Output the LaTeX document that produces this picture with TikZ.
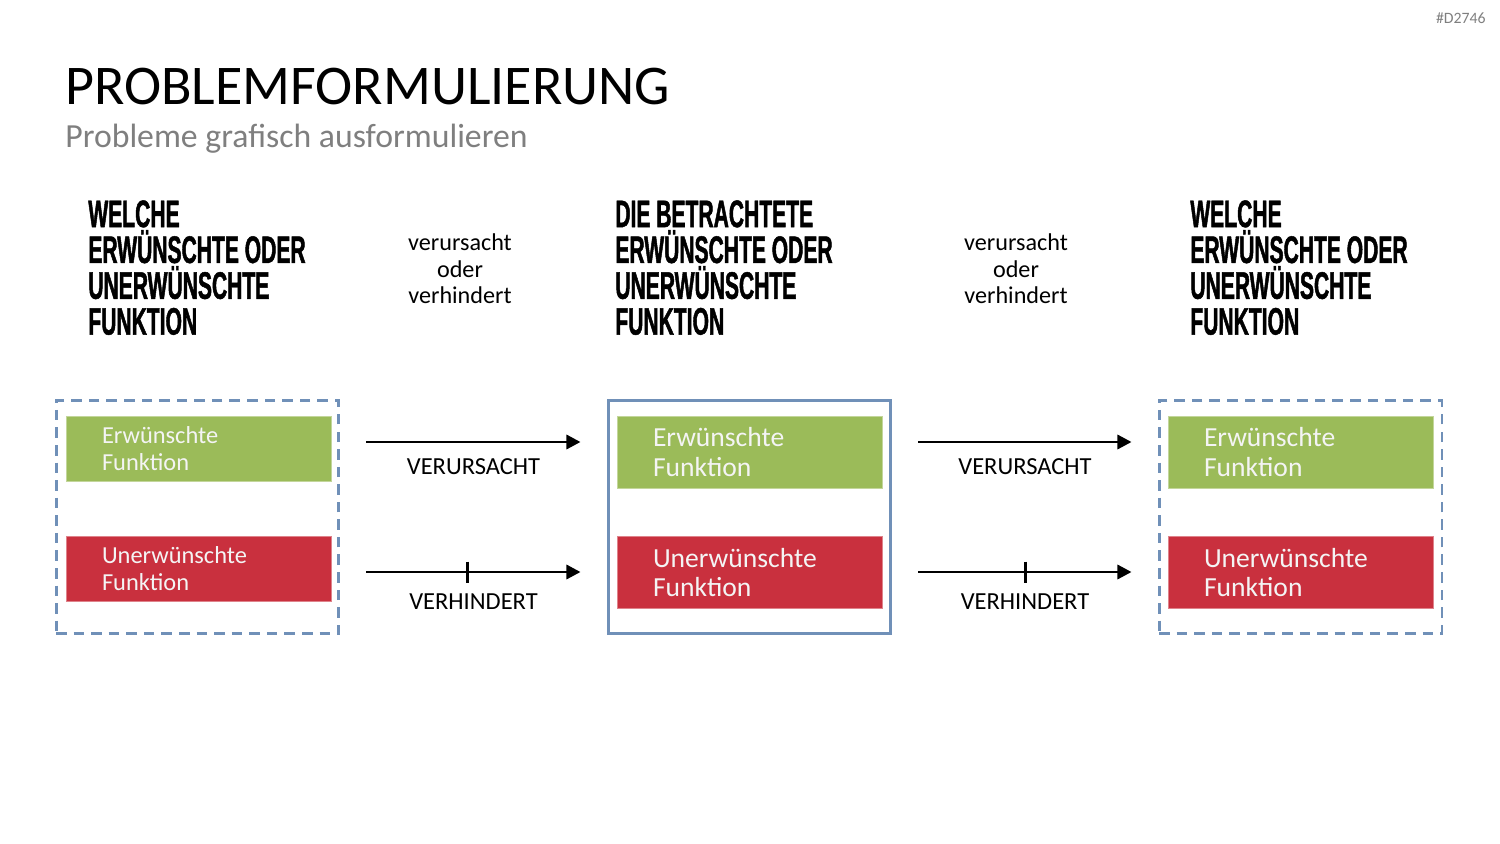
\documentclass[tikz,border=0pt]{standalone}
\usepackage{fontspec}
\setmainfont{Carlito}
\newfontfamily\pfheadfont{Liberation Sans}[FakeStretch=0.55,FakeBold=1.2]
\usepackage{xcolor}
\definecolor{pfink}{HTML}{000000}
\definecolor{pfgray}{HTML}{7F7F7F}
\definecolor{pfblue}{HTML}{7090B8}
\definecolor{pfgreen}{HTML}{9BBB59}
\definecolor{pfred}{HTML}{C9303E}
\definecolor{pflight}{HTML}{F4F4F4}
\usetikzlibrary{arrows.meta,positioning,calc}
\tikzset{
  pftitle/.style ={inner sep=0pt, font=\fontsize{31.9}{36}\selectfont, text=pfink},
  pfsub/.style   ={inner sep=0pt, font=\fontsize{19.2}{23}\selectfont, text=pfgray},
  pftag/.style   ={inner sep=0pt, font=\fontsize{9}{11}\selectfont, text=pfgray},
  pfhead/.style  ={inner sep=0pt, anchor=north west, align=left, text=pfink,
                   font=\pfheadfont\bfseries\fontsize{21.8}{20.4}\selectfont},
  pfnote/.style  ={inner sep=0pt, anchor=north, align=center, text=pfink,
                   font=\fontsize{13.75}{15.3}\selectfont},
  pfframe/.style ={rectangle, draw=pfblue, line width=1.7pt, inner sep=0pt,
                   minimum width=5.66cm, minimum height=4.66cm},
  pfdash/.style  ={pfframe, dash pattern=on 6pt off 4pt},
  pffunc/.style  ={rectangle, line width=0.5pt, text=pflight, align=left,
                   minimum width=5.3cm, text width=3.86cm, inner xsep=0.72cm, inner ysep=0pt},
  pfsmall/.style ={minimum height=1.3cm, font=\fontsize{13.9}{15.3}\selectfont},
  pfbig/.style   ={minimum height=1.44cm, font=\fontsize{15.7}{17}\selectfont},
  pfgood/.style  ={pffunc, fill=pfgreen, draw=pfgreen!60!white},
  pfbad/.style   ={pffunc, fill=pfred, draw=pfred!60!white},
  pfcause/.style ={-{Triangle[length=8pt,width=8pt]}, line width=1.7pt, draw=pfink},
  pfbar/.style   ={line width=1.7pt, draw=pfink},
  pflbl/.style   ={inner sep=0pt, font=\fontsize{13.95}{16}\selectfont, text=pfink},
}
\begin{document}
\begin{tikzpicture}[x=0.02cm, y=-0.02cm]
  \useasboundingbox (0,0) rectangle (1500,844);
  % header
  \node[pftag, anchor=base east] (tag) at (1486,24) {\#D2746};
  \node[pftitle, anchor=base west] (title) at (65,105) {PROBLEMFORMULIERUNG};
  \node[pfsub, anchor=base west] (sub) at (65,148) {Probleme grafisch ausformulieren};
  % column headings
  \node[pfhead] (hL) at (88,200) {WELCHE\\ERWÜNSCHTE ODER\\UNERWÜNSCHTE\\FUNKTION};
  \node[pfhead] (hM) at (615,200) {DIE BETRACHTETE\\ERWÜNSCHTE ODER\\UNERWÜNSCHTE\\FUNKTION};
  \node[pfhead] (hR) at (1190,200) {WELCHE\\ERWÜNSCHTE ODER\\UNERWÜNSCHTE\\FUNKTION};
  \node[pfnote] (nL) at (460,233) {verursacht\\oder\\verhindert};
  \node[pfnote] (nR) at (1016,233) {verursacht\\oder\\verhindert};
  % frames
  \node[pfdash]  (frL) at (197.5,517) {};
  \node[pfframe] (frM) at (749.5,517) {};
  \node[pfdash]  (frR) at (1300.5,517) {};
  \node[pfgood, pfsmall] (gL) at (198.5,448.5) {Erwünschte\\Funktion};
  \node[pfbad,  pfsmall] (rL) at (198.5,569)   {Unerwünschte\\Funktion};
  \node[pfgood, pfbig]   (gM) at (749.5,452)   {Erwünschte\\Funktion};
  \node[pfbad,  pfbig]   (rM) at (749.5,572.5) {Unerwünschte\\Funktion};
  \node[pfgood, pfbig]   (gR) at (1300.5,452)  {Erwünschte\\Funktion};
  \node[pfbad,  pfbig]   (rR) at (1300.5,572.5) {Unerwünschte\\Funktion};
  % connectors
  \coordinate (cLs) at ($(frL.east)+(26,-75)$);
  \coordinate (cLe) at ($(frM.west)+(-26,-75)$);
  \coordinate (iLs) at ($(frL.east)+(26,55)$);
  \coordinate (iLe) at ($(frM.west)+(-26,55)$);
  \coordinate (cRs) at ($(frM.east)+(26,-75)$);
  \coordinate (cRe) at ($(frR.west)+(-26,-75)$);
  \coordinate (iRs) at ($(frM.east)+(26,55)$);
  \coordinate (iRe) at ($(frR.west)+(-26,55)$);
  \draw[pfcause] (cLs) -- (cLe) node[pflbl, midway, below=0.3cm] (vL) {VERURSACHT};
  \draw[pfcause] (iLs) -- (iLe) node[pflbl, midway, below=0.4cm] (hiL) {VERHINDERT};
  \draw[pfbar] ($(iLs)!0.47!(iLe)$) +(0,-10.5) -- +(0,10.5);
  \draw[pfcause] (cRs) -- (cRe) node[pflbl, midway, below=0.3cm] (vR) {VERURSACHT};
  \draw[pfcause] (iRs) -- (iRe) node[pflbl, midway, below=0.4cm] (hiR) {VERHINDERT};
  \draw[pfbar] ($(iRs)!0.5!(iRe)$) +(0,-10.5) -- +(0,10.5);
\end{tikzpicture}
\end{document}
